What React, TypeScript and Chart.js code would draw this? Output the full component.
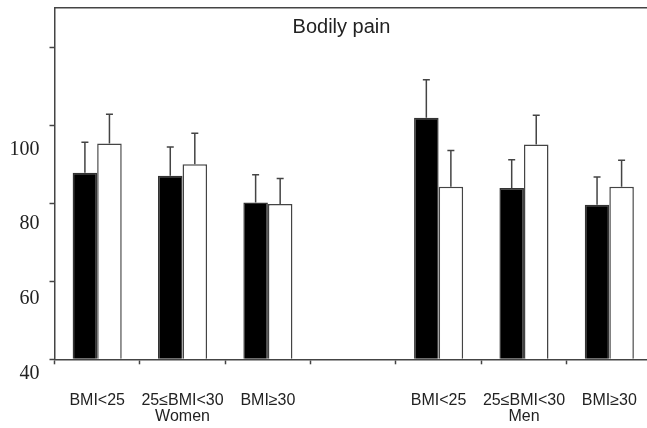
import { useEffect, useRef } from "react";
import { Chart, registerables } from "chart.js";

Chart.register(...registerables);

// BMI groups along the bottom, with the sex under each middle group
const bmiGroups = ["BMI<25", "25≤BMI<30", "BMI≥30", "", "BMI<25", "25≤BMI<30", "BMI≥30"];
const sexRow = ["", "Women", "", "", "", "Men", ""];

// Mean scores (filled bars) and their upper error bars
const filledMeans = [87.8, 87.0, 80.2, null, 101.9, 83.9, 79.6];
const filledErrors = [7.8, 7.4, 7.1, null, 9.7, 7.2, 7.1];

// Mean scores (open bars) and their upper error bars
const openMeans = [95.3, 90.0, 79.8, null, 84.2, 95.0, 84.2];
const openErrors = [7.5, 7.9, 6.5, null, 9.3, 7.5, 6.8];

const yMin = 40;
const yMax = 130;
const yStep = 20;
const yLabelValues = [40, 60, 80, 100];

const titleText = "Bodily pain";

const sans = '"Liberation Sans", Arial, Helvetica, sans-serif';
const serif = '"Liberation Serif", "Times New Roman", Times, serif';
const ink = "#444";
const textInk = "#222";

// Upward error bars with a short cap, drawn on top of each bar
const errorBarsPlugin = {
  id: "errorBars",
  afterDatasetsDraw(chart: any) {
    const { ctx } = chart;
    const yScale = chart.scales.y;
    chart.data.datasets.forEach((ds: any, di: number) => {
      const meta = chart.getDatasetMeta(di);
      meta.data.forEach((bar: any, i: number) => {
        const v = ds.data[i];
        const e = ds.errors?.[i];
        if (v == null || e == null) return;
        const yBar = yScale.getPixelForValue(v);
        const yCap = yScale.getPixelForValue(v + e);
        ctx.save();
        ctx.strokeStyle = ink;
        ctx.lineWidth = 1.5;
        ctx.beginPath();
        ctx.moveTo(bar.x, yBar);
        ctx.lineTo(bar.x, yCap);
        ctx.moveTo(bar.x - 3.5, yCap);
        ctx.lineTo(bar.x + 3.5, yCap);
        ctx.stroke();
        ctx.restore();
      });
    });
  },
};

// Title placed inside the framed plot, centred on the canvas
const innerTitlePlugin = {
  id: "innerTitle",
  afterDraw(chart: any) {
    const { ctx } = chart;
    ctx.save();
    ctx.font = `20px ${sans}`;
    ctx.fillStyle = textInk;
    ctx.textAlign = "center";
    ctx.textBaseline = "middle";
    ctx.fillText(titleText, chart.width / 2, chart.chartArea.top + 19.5);
    ctx.restore();
  },
};

export default function App() {
  const canvasRef = useRef<HTMLCanvasElement | null>(null);

  useEffect(() => {
    document.documentElement.style.overflow = "hidden";
    document.body.style.overflow = "hidden";
    const canvas = canvasRef.current;
    if (!canvas) return;

    const chart = new Chart(canvas, {
      type: "bar",
      data: {
        labels: bmiGroups.map((g, i) => [g, sexRow[i]]),
        datasets: [
          {
            label: "filled",
            data: filledMeans,
            errors: filledErrors,
            base: yMin,
            backgroundColor: "#000",
            borderColor: "#333",
            borderWidth: 1.5,
            xAxisID: "x",
            yAxisID: "y",
          } as any,
          {
            label: "open",
            data: openMeans,
            errors: openErrors,
            base: yMin,
            backgroundColor: "#fff",
            borderColor: ink,
            borderWidth: 1.5,
            xAxisID: "x",
            yAxisID: "y",
          } as any,
        ],
      },
      options: {
        responsive: false,
        devicePixelRatio: 1,
        animation: false,
        datasets: {
          bar: { categoryPercentage: 0.575, barPercentage: 1 },
        },
        layout: { padding: { top: 8, left: 0, right: 31, bottom: 0 } },
        plugins: {
          legend: { display: false },
          tooltip: { enabled: false },
          title: { display: false },
        },
        scales: {
          x: {
            type: "category",
            position: "bottom",
            grid: {
              offset: true,
              drawOnChartArea: false,
              tickLength: 5,
              tickColor: ink,
              tickWidth: 1.5,
            },
            border: { color: ink, width: 1.5 },
            ticks: {
              autoSkip: false,
              maxRotation: 0,
              minRotation: 0,
              padding: 28.5,
              color: textInk,
              font: { family: sans, size: 16, lineHeight: 1 },
            },
            afterFit: (scale: any) => {
              scale.height = 68.7;
            },
          },
          xTop: {
            type: "linear",
            axis: "x",
            position: "top",
            ticks: { display: false },
            grid: { drawOnChartArea: false, drawTicks: false },
            border: { color: ink, width: 1.5 },
          },
          y: {
            type: "linear",
            axis: "y",
            position: "left",
            weight: 0,
            min: yMin,
            max: yMax,
            ticks: { stepSize: yStep, display: false },
            afterBuildTicks: (scale: any) => {
              scale.ticks = scale.ticks.filter((t: any) => t.value <= yMax - yStep / 2);
            },
            grid: {
              drawOnChartArea: false,
              tickLength: 5,
              tickColor: ink,
              tickWidth: 1.5,
            },
            border: { color: ink, width: 1.5 },
          },
          yl: {
            type: "linear",
            axis: "y",
            position: "left",
            weight: 1,
            min: yMin,
            max: 134,
            ticks: {
              stepSize: yStep,
              labelOffset: 14.4,
              padding: 10,
              color: textInk,
              font: { family: serif, size: 20 },
            },
            afterBuildTicks: (scale: any) => {
              scale.ticks = scale.ticks.filter((t: any) => yLabelValues.includes(t.value));
            },
            afterFit: (scale: any) => {
              scale.width = 49.5;
              scale.paddingTop = 0;
              scale.paddingBottom = 0;
            },
            grid: { display: false, drawTicks: false },
            border: { display: false },
          },
        },
      } as any,
      plugins: [errorBarsPlugin, innerTitlePlugin],
    });

    return () => chart.destroy();
  }, []);

  return (
    <div
      style={{
        position: "fixed",
        left: 0,
        top: 0,
        width: 647,
        height: 428,
        overflow: "hidden",
        background: "#fff",
      }}
    >
      <canvas ref={canvasRef} width={683} height={428} style={{ display: "block" }} />
    </div>
  );
}
